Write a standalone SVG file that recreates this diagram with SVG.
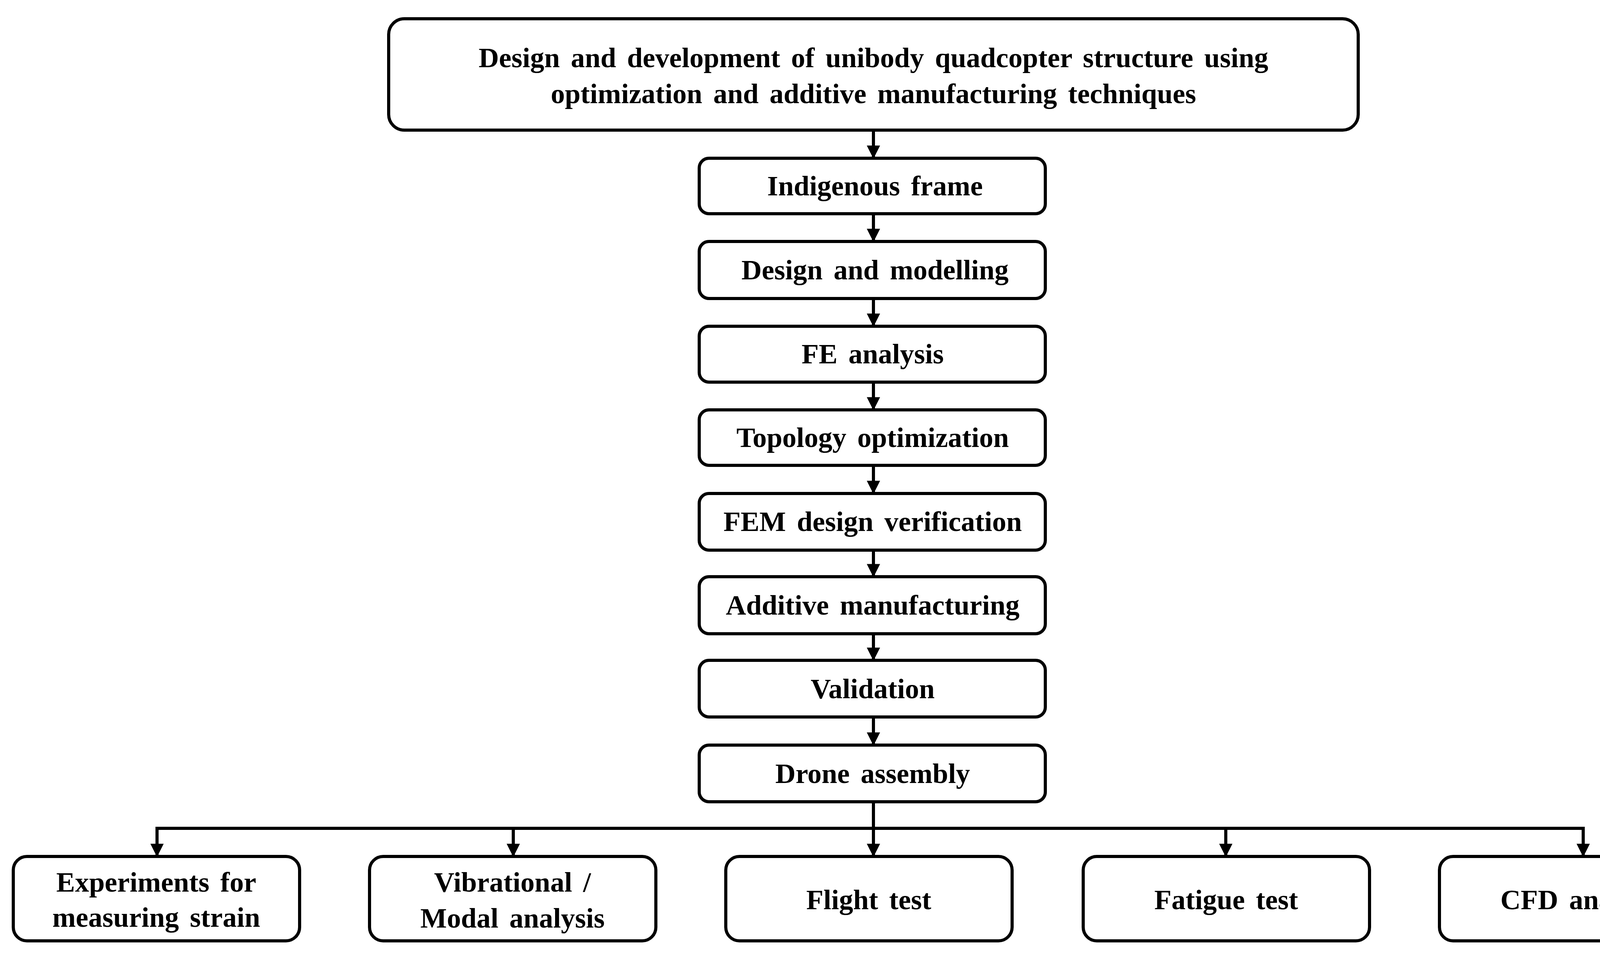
<svg xmlns="http://www.w3.org/2000/svg" width="4446" height="2457" viewBox="0 0 4446 2457">
<style>
.b{fill:#fff;stroke:#000;stroke-width:8}
.t{font-family:"Liberation Serif",serif;font-weight:bold;font-size:72px;word-spacing:10px;text-anchor:middle;fill:#000}
.c{stroke:#000;stroke-width:8;fill:none}
</style>
<defs>
<marker id="m" viewBox="0 0 10 10" refX="9" refY="5" markerWidth="34" markerHeight="34" markerUnits="userSpaceOnUse" orient="auto"><path d="M0,0L10,5L0,10z" fill="#000"/></marker></defs>
<rect width="4446" height="2457" fill="#fff"/>
<g id="n0"><rect class="b" x="995" y="48" width="2482" height="285" rx="40"/><text class="t" x="2236" y="172">Design and development of unibody quadcopter structure using</text><text class="t" x="2236" y="264">optimization and additive manufacturing techniques</text></g>
<g id="n1"><rect class="b" x="1790" y="405" width="886" height="142" rx="25"/><text class="t" x="2240" y="500">Indigenous frame</text></g>
<g id="n2"><rect class="b" x="1790" y="618" width="886" height="146" rx="25"/><text class="t" x="2240" y="715">Design and modelling</text></g>
<g id="n3"><rect class="b" x="1790" y="835" width="886" height="143" rx="25"/><text class="t" x="2234" y="930">FE analysis</text></g>
<g id="n4"><rect class="b" x="1790" y="1049" width="886" height="142" rx="25"/><text class="t" x="2234" y="1144">Topology optimization</text></g>
<g id="n5"><rect class="b" x="1790" y="1263" width="886" height="145" rx="25"/><text class="t" x="2234" y="1359">FEM design verification</text></g>
<g id="n6"><rect class="b" x="1790" y="1476" width="886" height="146" rx="25"/><text class="t" x="2234" y="1573">Additive manufacturing</text></g>
<g id="n7"><rect class="b" x="1790" y="1690" width="886" height="145" rx="25"/><text class="t" x="2234" y="1787">Validation</text></g>
<g id="n8"><rect class="b" x="1790" y="1907" width="886" height="145" rx="25"/><text class="t" x="2234" y="2004">Drone assembly</text></g>
<g id="n9"><rect class="b" x="34" y="2192" width="733" height="216" rx="35"/><text class="t" x="400" y="2282">Experiments for</text><text class="t" x="400" y="2372">measuring strain</text></g>
<g id="n10"><rect class="b" x="946" y="2192" width="733" height="216" rx="35"/><text class="t" x="1312" y="2282">Vibrational /</text><text class="t" x="1312" y="2374">Modal analysis</text></g>
<g id="n11"><rect class="b" x="1858" y="2192" width="733" height="216" rx="35"/><text class="t" x="2224" y="2327">Flight test</text></g>
<g id="n12"><rect class="b" x="2773" y="2192" width="733" height="216" rx="35"/><text class="t" x="3139" y="2327">Fatigue test</text></g>
<g id="n13"><rect class="b" x="3685" y="2192" width="733" height="216" rx="35"/><text class="t" x="4051" y="2327">CFD analysis</text></g>
<g id="edges" class="c">
<line x1="2236" y1="333" x2="2236" y2="403" marker-end="url(#m)"/>
<line x1="2236" y1="547" x2="2236" y2="616" marker-end="url(#m)"/>
<line x1="2236" y1="764" x2="2236" y2="833" marker-end="url(#m)"/>
<line x1="2236" y1="978" x2="2236" y2="1047" marker-end="url(#m)"/>
<line x1="2236" y1="1191" x2="2236" y2="1261" marker-end="url(#m)"/>
<line x1="2236" y1="1408" x2="2236" y2="1474" marker-end="url(#m)"/>
<line x1="2236" y1="1622" x2="2236" y2="1688" marker-end="url(#m)"/>
<line x1="2236" y1="1835" x2="2236" y2="1905" marker-end="url(#m)"/>
<line x1="2236" y1="2052" x2="2236" y2="2190" marker-end="url(#m)"/>
<polyline points="402,2190 402,2120 4053,2120 4053,2190" marker-end="url(#m)"/>
<line x1="402" y1="2120" x2="402" y2="2190" marker-end="url(#m)"/>
<line x1="1314" y1="2120" x2="1314" y2="2190" marker-end="url(#m)"/>
<line x1="3138" y1="2120" x2="3138" y2="2190" marker-end="url(#m)"/>
</g>
</svg>
